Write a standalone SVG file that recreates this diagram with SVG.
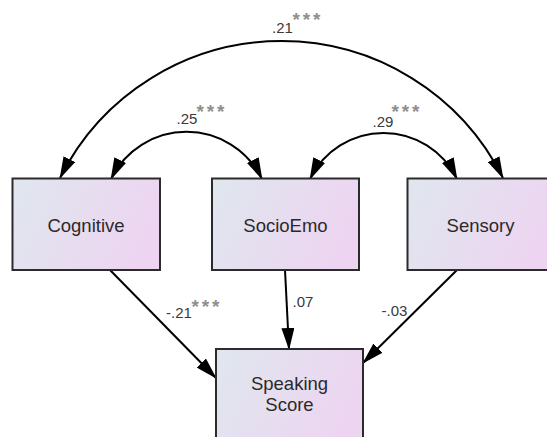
<svg xmlns="http://www.w3.org/2000/svg" width="547" height="437" viewBox="0 0 547 437">
<defs>
<linearGradient id="g" x1="0" y1="0" x2="1" y2="0.3">
<stop offset="0" stop-color="#dfe7ee"/>
<stop offset="1" stop-color="#edd5f1"/>
</linearGradient>
<marker id="ah" markerUnits="userSpaceOnUse" markerWidth="22" markerHeight="13" refX="21" refY="6.5" orient="auto-start-reverse" viewBox="0 0 22 13">
<path d="M0,0 L22,6.5 L0,13 z" fill="#000"/>
</marker>
<style>
.box{fill:url(#g);stroke:#2b2b2b;stroke-width:2}
.lbl{font-family:"Liberation Sans",Arial,sans-serif;font-size:18.5px;fill:#2a2a2a;text-anchor:middle}
.num{font-family:"Liberation Sans",Arial,sans-serif;font-size:15px;fill:#3a3a3a}
.st{font-family:"Liberation Sans",Arial,sans-serif;font-size:19px;font-weight:bold;fill:#8f8f8f;letter-spacing:2.8px}
.c{fill:none;stroke:#000;stroke-width:2}
</style>
</defs>
<g id="connectors">
<path class="c" d="M60,178 A247.6,247.6 0 0 1 503,178" marker-start="url(#ah)" marker-end="url(#ah)"/>
<path class="c" d="M111,179 A84,84 0 0 1 262,179" marker-start="url(#ah)" marker-end="url(#ah)"/>
<path class="c" d="M310,179 A81.7,81.7 0 0 1 457,179" marker-start="url(#ah)" marker-end="url(#ah)"/>
<path class="c" d="M110,270 L216,378" marker-end="url(#ah)"/>
<path class="c" d="M285,270 L289,349" marker-end="url(#ah)"/>
<path class="c" d="M457,270 L363,363" marker-end="url(#ah)"/>
<text class="num" x="272" y="33">.21</text>
<text class="st" x="292.5" y="26">***</text>
<text class="num" x="176.5" y="124">.25</text>
<text class="st" x="196.5" y="117.5">***</text>
<text class="num" x="372.5" y="127">.29</text>
<text class="st" x="391.5" y="117.5">***</text>
<text class="num" x="166" y="318">-.21</text>
<text class="st" x="191.5" y="312.5">***</text>
<text class="num" x="292.5" y="307">.07</text>
<text class="num" x="381.5" y="316">-.03</text>
</g>
<g id="cognitive">
<rect class="box" x="12.5" y="178.5" width="147.5" height="91.5"/>
<text class="lbl" x="86" y="231.5">Cognitive</text>
</g>
<g id="socioemo">
<rect class="box" x="212" y="178.5" width="147" height="91.5"/>
<text class="lbl" x="285.5" y="231.5">SocioEmo</text>
</g>
<g id="sensory">
<rect class="box" x="407.5" y="178.5" width="147" height="91.5"/>
<text class="lbl" x="480.5" y="231.5">Sensory</text>
</g>
<g id="speaking">
<rect class="box" x="216" y="349" width="147" height="100"/>
<text class="lbl" x="289.5" y="389.5">Speaking</text>
<text class="lbl" x="289.5" y="411">Score</text>
</g>
</svg>
